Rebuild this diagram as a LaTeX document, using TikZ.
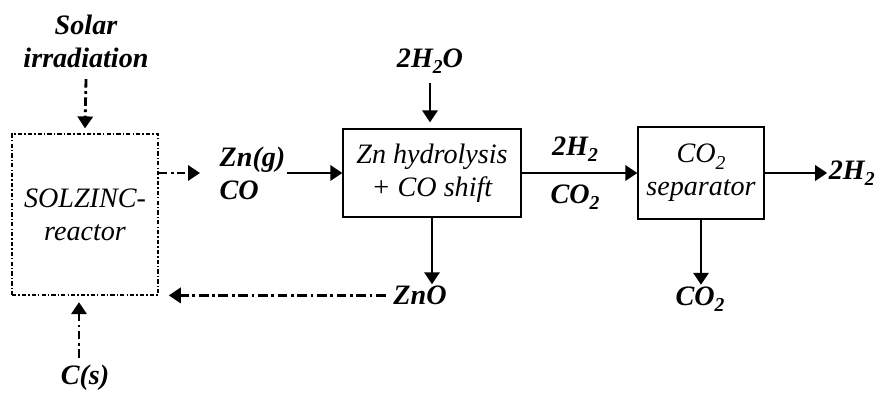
\documentclass[tikz,border=0pt]{standalone}
\usepackage{fontspec}
\setmainfont{Liberation Serif}
\usetikzlibrary{arrows.meta,positioning}
\newcommand{\chsub}[1]{\raisebox{-0.5ex}{\fontsize{14}{14}\selectfont #1}}

\begin{document}
\begin{tikzpicture}[
  font=\fontsize{20}{23.5}\selectfont\itshape,
  box/.style={draw, line width=0.9pt, align=center, inner sep=0pt},
  lbl/.style={font=\fontsize{20}{23.5}\selectfont\bfseries\itshape, align=center, inner sep=1pt},
  flow/.style={-{Triangle[length=3mm, width=3.8mm]}, line width=2pt},
  dflow/.style={flow, dash pattern=on 6pt off 2.5pt on 2pt off 2.5pt}
]
  \useasboundingbox (0,0) rectangle (22,10.025);

  % solar reactor
  \node[box, line width=1.1pt, dash pattern=on 3pt off 1.5pt on 1pt off 1.5pt,
        minimum width=3.65cm, minimum height=4.025cm] (reactor) at (2.125,4.6625) {SOLZINC-\\reactor};
  \node[lbl] (solar) at (2.15,9.0) {Solar\\irradiation};
  \node[lbl] (cs) at (2.125,0.575) {C(s)};

  \draw[dflow] ([yshift=-2.5mm]solar.south) -- ([yshift=1.2mm]reactor.north);
  \draw[dflow] ([xshift=-1.5mm,yshift=1.5mm]cs.north) -- ([xshift=-1.5mm,yshift=-1.6mm]reactor.south);

  % hydrolysis + shift
  \node[lbl, align=left, anchor=west] (zn) at (5.45,5.7) {Zn(g)\\CO};
  \node[box, minimum width=4.45cm, minimum height=2.2cm] (hydro) at (10.8,5.7) {Zn hydrolysis\\+ CO shift};
  \node[lbl] (h2o) at (10.75,8.5) {2H\chsub{2}O};
  \node[lbl] (zno) at (10.5,2.64) {ZnO};

  \draw[dflow] (reactor.east |- zn.west) -- ([xshift=-4.5mm]zn.west);
  \draw[flow] (zn.east) -- (hydro.west);
  \draw[flow] ([yshift=-2mm]h2o.south) -- ([yshift=1.5mm]h2o.south |- hydro.north);
  \draw[flow] (hydro.south) -- (hydro.south |- zno.north);
  \draw[dflow, dash pattern=on 7pt off 2.5pt on 2pt off 2.5pt] ([xshift=-1.5mm]zno.west) -- ([xshift=2.5mm]reactor.south east |- zno.west);

  % separator
  \node[box, minimum width=3.15cm, minimum height=2.3cm] (sep) at (17.525,5.7) {CO\chsub{2}\\separator};
  \node[lbl] (h2a) at (14.375,6.3) {2H\chsub{2}};
  \node[lbl] (co2a) at (14.375,5.1) {CO\chsub{2}};
  \node[lbl, anchor=west] (h2b) at (20.68,5.7) {2H\chsub{2}};
  \node[lbl] (co2b) at (17.5,2.55) {CO\chsub{2}};

  \draw[flow] (hydro.east) -- (sep.west);
  \draw[flow] (sep.east) -- (h2b.west);
  \draw[flow] (sep.south) -- (sep.south |- co2b.north);
\end{tikzpicture}
\end{document}
